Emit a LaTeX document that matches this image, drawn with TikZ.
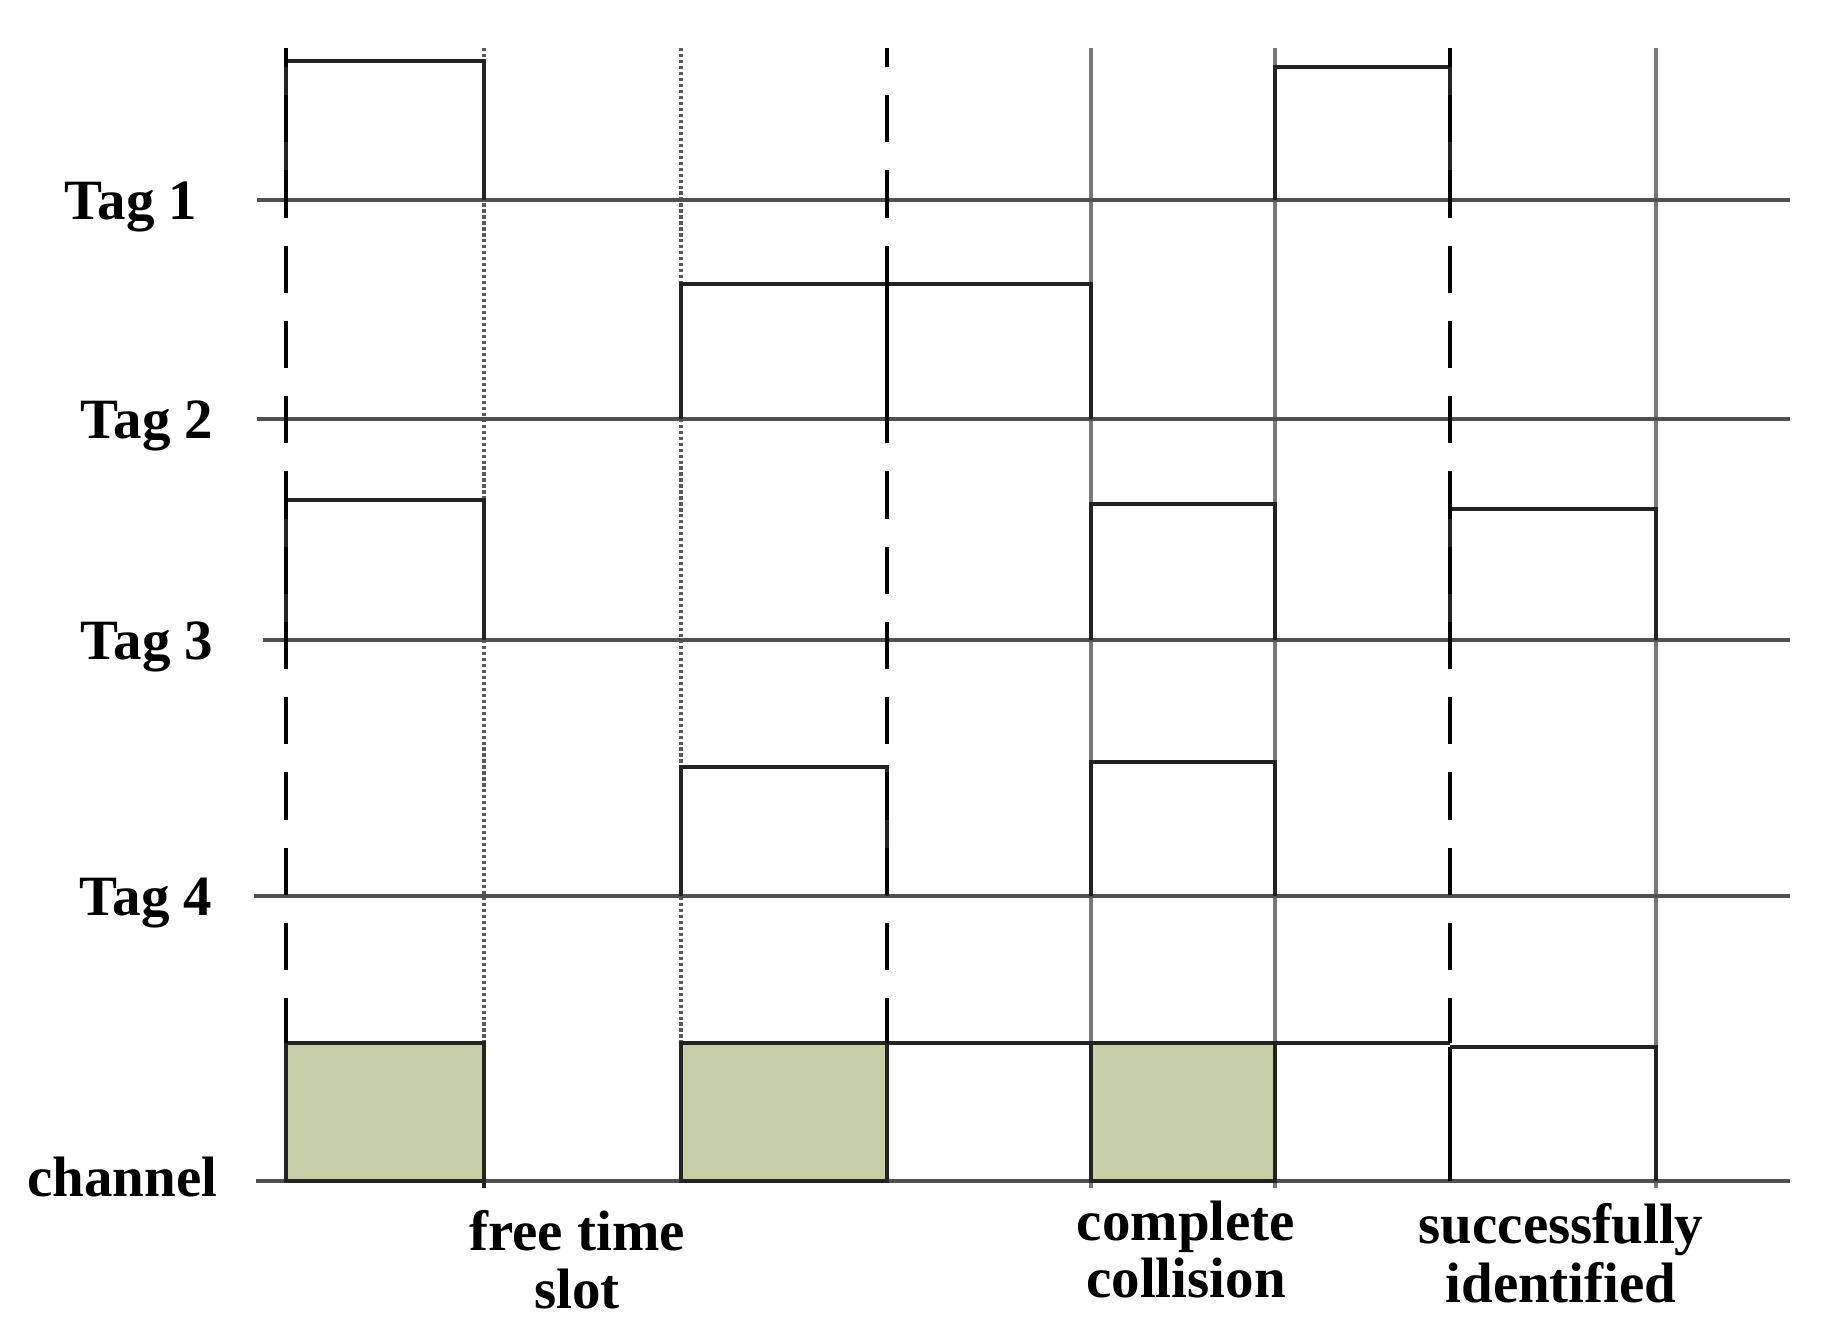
\documentclass[tikz,border=0pt]{standalone}
\usepackage{fontspec}
\setmainfont{Liberation Serif}
\definecolor{axisgray}{RGB}{80,80,80}
\definecolor{edgegray}{RGB}{35,35,35}
\definecolor{dotgray}{RGB}{90,90,90}
\definecolor{guidegray}{RGB}{120,120,120}
\definecolor{slotgreen}{RGB}{199,207,168}
\begin{document}
\begin{tikzpicture}[x=0.01cm,y=-0.01cm,
  axisline/.style={draw=axisgray,line width=1.2pt},
  edge/.style={draw=edgegray,line width=1.0pt,line join=miter},
  dashguide/.style={draw=black,line width=1.35pt,dash pattern=on 13.4pt off 8pt,dash phase=8pt},
  dotguide/.style={draw=dotgray,line width=0.9pt,dash pattern=on 0.9pt off 0.8pt},
  greyguide/.style={draw=guidegray,line width=0.95pt},
  greenfill/.style={fill=slotgreen},
  greenedge/.style={draw=edgegray,line width=1.1pt},
  lab/.style={font=\fontsize{16.2pt}{18pt}\selectfont\bfseries,inner sep=0pt}]
\useasboundingbox (0,0) rectangle (1825,1329);
% slot boundaries (x)
\def\xA{286}\def\xB{484}\def\xC{681}\def\xD{887}\def\xE{1091}\def\xF{1275}\def\xG{1450}\def\xH{1656}
\def\xR{1790}
% named coordinates
\coordinate (Atop) at (\xA,48);  \coordinate (Abot) at (\xA,1043);
\coordinate (Btop) at (\xB,48);  \coordinate (Bbot) at (\xB,1043);
\coordinate (Ctop) at (\xC,48);  \coordinate (Cbot) at (\xC,1043);
\coordinate (Dtop) at (\xD,48);  \coordinate (Dbot) at (\xD,1043);
\coordinate (Etop) at (\xE,48);  \coordinate (Ebot) at (\xE,1188);
\coordinate (Ftop) at (\xF,48);  \coordinate (Fbot) at (\xF,1188);
\coordinate (Gtop) at (\xG,48);  \coordinate (Gbot) at (\xG,1043);
\coordinate (Htop) at (\xH,48);  \coordinate (Hbot) at (\xH,1188);
% channel green slots (fill)
\path[greenfill] (\xA,1043) rectangle (\xB,1181);
\path[greenfill] (\xC,1043) rectangle (\xD,1181);
\path[greenfill] (\xE,1043) rectangle (\xF,1181);
% dotted and grey guides
\draw[dotguide] (Btop) -- (Bbot);
\draw[dotguide] (Ctop) -- (Cbot);
\draw[greyguide] (Etop) -- (Ebot);
\draw[greyguide] (Ftop) -- (Fbot);
\draw[greyguide] (Htop) -- (Hbot);
\draw[edge] (\xB,1181) -- (\xB,1188);
% axes
\coordinate (L1) at (257,200);  \coordinate (R1) at (\xR,200);
\coordinate (L2) at (257,419);  \coordinate (R2) at (\xR,419);
\coordinate (L3) at (263,640);  \coordinate (R3) at (\xR,640);
\coordinate (L4) at (254,896);  \coordinate (R4) at (\xR,896);
\coordinate (L5) at (256,1181); \coordinate (R5) at (\xR,1181);
\draw[axisline] (L1) -- (R1);
\draw[axisline] (L2) -- (R2);
\draw[axisline] (L3) -- (R3);
\draw[axisline] (L4) -- (R4);
\draw[axisline] (L5) -- (R5);
% channel green slots (outline)
\draw[greenedge] (\xA,1043) rectangle (\xB,1181);
\draw[greenedge] (\xC,1043) rectangle (\xD,1181);
\draw[greenedge] (\xE,1043) rectangle (\xF,1181);
% Tag 1 pulses
\draw[edge] (\xA,200) -- (\xA,61) -- (\xB,61) -- (\xB,200);
\draw[edge] (\xF,200) -- (\xF,67) -- (\xG,67) -- (\xG,200);
% Tag 2 pulse
\draw[edge] (\xC,419) -- (\xC,284) -- (\xE,284) -- (\xE,419);
\draw[edge,draw=black,line width=1.3pt] (\xD,284) -- (\xD,419);
% Tag 3 pulses
\draw[edge] (\xA,640) -- (\xA,500) -- (\xB,500) -- (\xB,640);
\draw[edge] (\xE,640) -- (\xE,504) -- (\xF,504) -- (\xF,640);
\draw[edge] (\xG,640) -- (\xG,509) -- (\xH,509) -- (\xH,640);
% Tag 4 pulses
\draw[edge] (\xC,896) -- (\xC,767) -- (\xD,767) -- (\xD,896);
\draw[edge] (\xE,896) -- (\xE,762) -- (\xF,762) -- (\xF,896);
% channel remaining levels
\draw[edge] (\xD,1043) -- (\xE,1043);
\draw[edge] (\xF,1043) -- (\xG,1043);
\draw[edge,draw=black,line width=1.2pt] (\xG,1181) -- (\xG,1047);
\draw[edge] (\xG,1047) -- (\xH,1047) -- (\xH,1181);
% dashed guides on top
\draw[dashguide] (Atop) -- (Abot);
\draw[dashguide] (Dtop) -- (Dbot);
\draw[dashguide] (Gtop) -- (Gbot);
% labels
\node[lab,anchor=base east] (t1) at (198,219) {Tag 1};
\node[lab,anchor=base east] (t2) at (214,438) {Tag 2};
\node[lab,anchor=base east] (t3) at (214,659) {Tag 3};
\node[lab,anchor=base east] (t4) at (213,915) {Tag 4};
\node[lab,anchor=base east] (ch) at (218,1196) {channel};
\node[lab,anchor=base] (f1) at (577,1250) {free time};
\node[lab,anchor=base] (f2) at (577,1308) {slot};
\node[lab,anchor=base] (c1) at (1186,1240) {complete};
\node[lab,anchor=base] (c2) at (1186,1297) {collision};
\node[lab,anchor=base] (s1) at (1561,1243) {successfully};
\node[lab,anchor=base] (s2) at (1561,1302) {identified};
\end{tikzpicture}
\end{document}
